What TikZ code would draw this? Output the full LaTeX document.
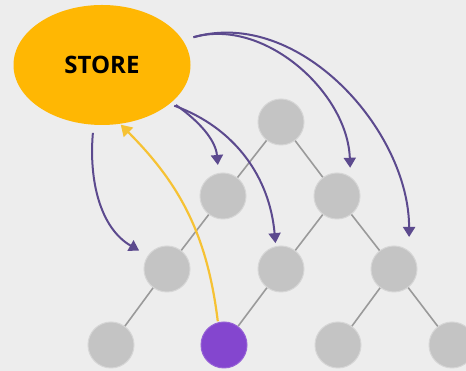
\documentclass[tikz,border=0pt]{standalone}
\usepackage{fontspec}
\setmainfont{Open Sans}
\usetikzlibrary{arrows.meta}
\usetikzlibrary{shapes.geometric}
\definecolor{bgGray}{HTML}{EDEDED}
\definecolor{nodeGray}{HTML}{C4C4C4}
\definecolor{rimGray}{HTML}{D6D6D6}
\definecolor{edgeGray}{HTML}{9A9A9A}
\definecolor{storeYellow}{HTML}{FFB703}
\definecolor{backYellow}{HTML}{F6C234}
\definecolor{fetchPurple}{HTML}{5C4A8E}
\definecolor{leafPurple}{HTML}{8446CF}

\begin{document}
\begin{tikzpicture}[x=1pt, y=1pt,
        treenode/.style = {circle, minimum size=46pt, inner sep=0pt, fill=nodeGray, draw=rimGray, line width=1pt},
        active/.style = {treenode, fill=leafPurple, draw=leafPurple!85!white},
        link/.style = {edgeGray, line width=1.6pt},
        fetch/.style = {fetchPurple, line width=2pt, -{Triangle[length=10pt, width=12pt]}},
        report/.style = {backYellow, line width=2.2pt, -{Triangle[length=11pt, width=13pt]}}]
                \fill[bgGray] (0,0) rectangle (466,371);
                \useasboundingbox (0,0) rectangle (466,371);
                \node[ellipse, minimum width=177pt, minimum height=120pt, inner sep=0pt, fill=storeYellow]
                        (store) at (102,306) {\fontsize{24}{28}\selectfont\bfseries STORE};
                \node[treenode] (root) at (281,249) {};
                \node[treenode] (lft) at (223,175) {};
                \node[treenode] (rgt) at (337,175) {};
                \node[treenode] (lftA) at (167,102) {};
                \node[treenode] (rgtA) at (281,102) {};
                \node[treenode] (rgtB) at (394,102) {};
                \node[treenode] (leafA) at (111,26) {};
                \node[active] (leafB) at (224,26) {};
                \node[treenode] (leafC) at (338,26) {};
                \node[treenode] (leafD) at (452,26) {};
                \draw[link] (root) -- (lft);
                \draw[link] (root) -- (rgt);
                \draw[link] (lft) -- (lftA);
                \draw[link] (rgt) -- (rgtA);
                \draw[link] (rgt) -- (rgtB);
                \draw[link] (lftA) -- (leafA);
                \draw[link] (rgtA) -- (leafB);
                \draw[link] (rgtB) -- (leafC);
                \draw[link] (rgtB) -- (leafD);
                \draw[fetch, shorten <=8pt, shorten >=10pt] (store.262) to[out=265, in=150] (lftA.145);
                \draw[fetch, shorten <=5pt, shorten >=8pt] (store.332) to[out=-35, in=95] (lft.101);
                \draw[fetch, shorten <=5pt, shorten >=3pt] (store.330) to[out=-20, in=95] (rgtA.103);
                \draw[fetch, shorten <=11pt, shorten >=9pt] (store.17) to[out=16, in=92] (rgt.55);
                \draw[fetch, shorten <=11pt, shorten >=14pt] (store.17) to[out=16, in=90] (rgtB.50);
                \draw[report, shorten <=1pt, shorten >=1pt] (leafB.105) to[out=97, in=-45] (store.287);
\end{tikzpicture}
\end{document}
